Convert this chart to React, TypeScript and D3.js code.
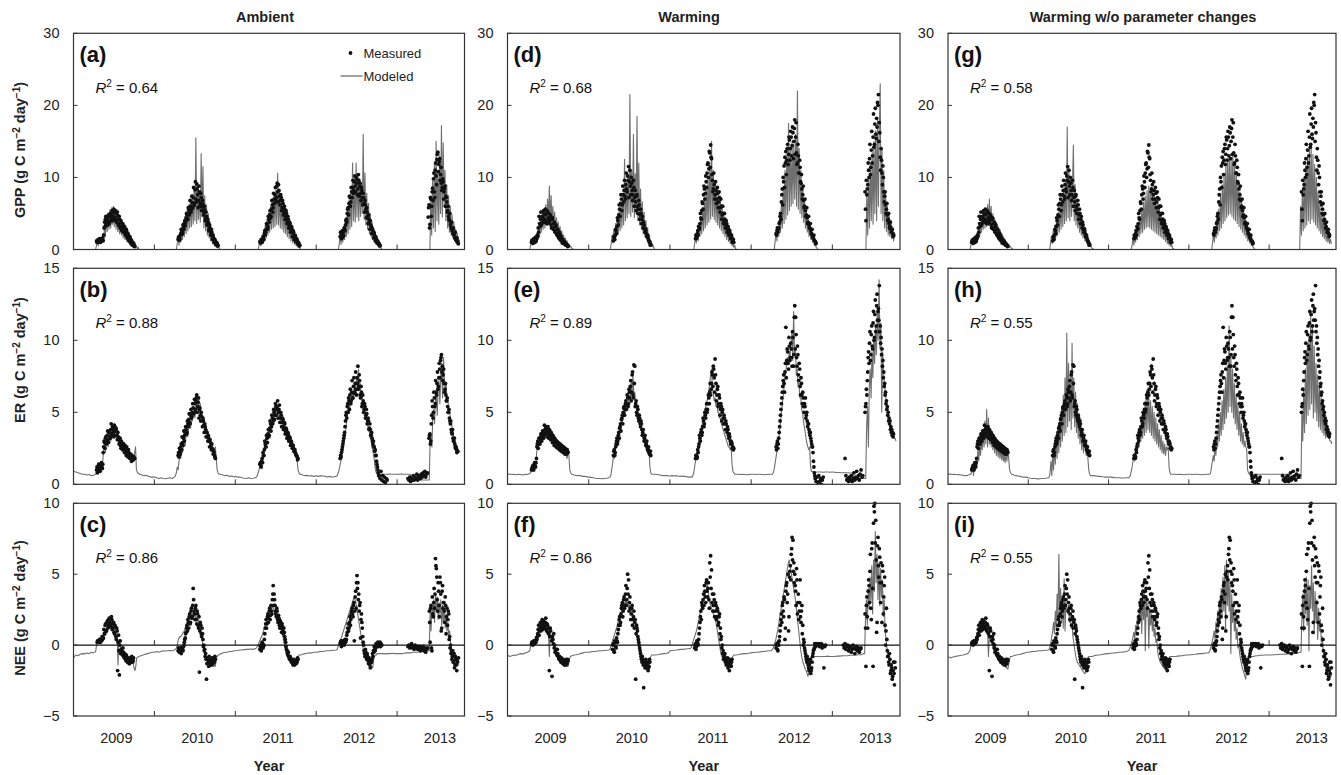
import React from 'react';
import * as d3 from 'd3';

// [year, first day of year, day step, values]
type Seg = [number, number, number, number[]];
type Pt = { t: number; v: number };

const years = [2009, 2010, 2011, 2012, 2013];
const yearTicks = [2010, 2011, 2012, 2013];
const xDomain = [2009, 2013 + 304 / 365];
const columnTitles = ['Ambient', 'Warming', 'Warming w/o parameter changes'];
const panelLetters = [['(a)', '(b)', '(c)'], ['(d)', '(e)', '(f)'], ['(g)', '(h)', '(i)']];
const r2Values = [['0.64', '0.88', '0.86'], ['0.68', '0.89', '0.86'], ['0.58', '0.55', '0.55']];
const yNames = ['GPP', 'ER', 'NEE'];
const yDomains = [[0, 30], [0, 15], [-5, 10]];
const yTicks = [[0, 10, 20, 30], [0, 5, 10, 15], [-5, 0, 5, 10]];

// ---------- measured (ambient) ----------
const gppAmbMeasured: Seg[] = [
  [2009, 105, 4, [1.2,1.0,1.4,1.3,1.1,1.5,1.2,1.6,2.0,3.8,4.2,3.5,4.4,4.0,4.6,3.9,4.8,4.3,5.1,4.6,5.3,4.4,5.0,4.1,4.7,3.6,4.2,3.2,3.7,2.9,3.3,2.6,2.9,2.2,2.5,1.8,2.0,1.4,1.6,1.1,1.0,0.7,0.8,0.5]],
  [2010, 108, 4, [1.4,1.8,1.5,2.2,2.6,2.4,3.1,3.6,3.3,4.4,4.8,4.2,5.5,5.1,6.0,5.6,6.5,7.2,6.1,8.3,7.0,9.1,7.6,6.8,8.0,6.4,7.2,5.9,6.3,5.2,5.5,4.4,4.6,3.6,3.8,2.9,3.0,2.3,2.4,1.8,1.6,1.3,1.1,0.9,0.8,0.6]],
  [2011, 112, 4, [1.1,1.0,1.3,1.2,1.6,2.2,2.0,2.8,3.4,3.1,4.2,4.8,4.4,5.6,6.2,5.8,7.0,7.6,6.8,8.8,8.0,9.0,7.4,6.8,7.2,5.8,6.4,5.2,5.6,4.6,5.0,4.0,4.2,3.4,3.6,2.8,3.0,2.3,2.4,1.8,1.9,1.4,1.3,1.0,0.8,0.6]],
  [2012, 109, 4, [1.8,2.2,1.6,2.4,2.0,2.8,3.4,4.2,5.0,5.8,6.4,7.2,6.6,8.0,8.6,7.8,9.4,8.8,10.0,9.2,8.4,9.6,8.8,7.8,8.6,7.2,7.8,6.4,6.8,5.6,5.8,4.6,4.8,3.8,4.0,3.2,3.0,2.5,2.4,1.9,1.8,1.4,1.2,1.0,0.8,0.6]],
  [2013, 141, 4, [4.5,6.2,3.5,7.0,6.0,8.5,9.8,8.0,11.0,10.2,12.5,13.5,11.8,12.6,10.4,9.2,8.6,9.4,8.0,8.8,7.4,6.6,5.4,4.6,4.0,3.4,3.0,2.6,2.2,2.0,1.6,1.4,1.2,1.0,0.8]],
  // in-between days
  [2009, 107, 4, [1.0,1.3,1.1,1.5,1.0,1.3,1.4,1.2,3.0,3.2,4.6,3.8,3.4,4.8,3.6,5.0,4.0,5.4,4.0,5.6,4.2,5.4,3.8,5.2,3.4,4.6,3.0,4.0,2.6,3.6,2.4,3.2,2.0,2.8,1.6,2.2,1.2,1.8,0.9,1.3,0.6,0.9,0.4]],
  [2010, 110, 4, [1.7,1.3,2.0,2.8,2.1,3.4,2.8,4.0,3.8,5.0,4.2,5.8,4.8,6.8,5.2,7.4,5.8,8.6,6.4,9.4,6.6,8.4,5.8,8.8,6.0,7.8,5.4,6.8,4.8,6.0,4.0,5.2,3.4,4.2,2.6,3.4,2.0,2.8,1.4,2.0,1.0,1.4,0.7,1.0,0.5]],
  [2011, 114, 4, [0.9,1.4,1.0,1.8,1.4,2.6,2.4,3.6,2.8,4.6,3.8,5.4,4.6,6.8,5.2,7.8,6.4,8.6,7.2,9.2,6.6,8.2,6.2,7.6,5.4,6.8,4.8,6.0,4.2,5.4,3.6,4.6,3.0,3.8,2.4,3.2,1.8,2.6,1.4,2.0,1.1,1.5,0.8,1.0,0.5]],
  [2012, 111, 4, [2.4,1.5,2.6,1.8,3.0,2.6,4.0,3.8,5.6,4.8,7.4,6.0,8.6,7.2,9.6,8.2,10.2,8.0,9.8,7.6,10.4,7.4,9.2,6.8,8.2,6.2,7.2,5.2,6.2,4.4,5.2,3.6,4.2,2.8,3.4,2.2,2.8,1.6,2.2,1.2,1.6,0.9,1.1,0.7,0.5]],
  [2013, 143, 4, [5.8,3.0,7.2,4.6,8.0,6.8,10.6,7.2,12.0,9.0,13.2,10.8,12.2,9.6,11.4,8.2,9.8,7.0,8.4,6.0,7.2,5.2,6.0,4.2,5.0,3.6,3.8,2.8,3.0,2.2,2.4,1.6,1.6,1.2]],
];
const erAmbMeasured: Seg[] = [
  [2009, 105, 4, [1.0,0.8,1.2,1.1,0.9,1.3,1.2,1.4,2.6,2.9,3.2,2.8,3.4,3.1,3.6,3.3,3.8,3.5,4.0,3.6,4.1,3.7,3.9,3.4,3.6,3.2,3.0,2.7,3.0,2.6,2.8,2.5,2.7,2.3,2.6,2.2,2.4,2.1,2.0,1.8,2.0,1.7,1.9,1.8]],
  [2010, 108, 4, [2.0,1.9,2.3,2.6,2.4,2.9,3.2,3.0,3.5,3.8,3.6,4.2,4.5,4.3,4.8,4.6,5.0,5.3,5.0,5.6,5.8,6.2,5.4,6.0,5.2,4.8,5.0,4.4,4.6,4.1,4.2,3.8,3.6,3.3,3.4,3.0,3.1,2.7,2.8,2.4,2.3,2.0,1.8]],
  [2011, 112, 4, [1.4,1.3,1.6,1.5,2.0,2.4,2.8,2.6,3.2,3.5,3.3,3.9,4.2,4.0,4.6,4.4,5.0,4.8,5.4,5.2,5.8,5.0,5.5,4.6,4.8,4.3,4.5,4.0,4.2,3.7,3.8,3.4,3.5,3.1,3.2,2.9,2.8,2.6,2.5,2.3,2.2,2.0,1.9,1.8]],
  [2012, 109, 4, [1.8,1.9,2.4,2.8,3.2,3.6,4.4,5.0,5.4,5.0,5.8,6.2,5.6,6.4,6.0,6.8,6.3,7.0,6.6,7.4,8.2,6.8,7.2,6.0,6.4,5.6,5.8,5.2,5.4,4.8,4.9,4.4,4.4,3.9,3.8,3.4,3.2,2.8,2.6,2.3,2.0,1.6,1.2,0.8,0.6,0.4]],
  [2012, 293, 4, [0.9,0.3,0.6,0.2,0.5,0.1,0.4,0.3]],
  [2013, 50, 4, [0.4,0.3,0.5,0.2,0.4,0.3,0.6,0.3,0.5,0.4,0.7,0.3,0.5,0.6,0.4,0.7,0.5,0.8,0.6,0.9,0.5,0.7,0.8]],
  [2013, 145, 4, [3.2,3.5,3.0,4.8,5.4,5.0,6.0,5.6,6.4,7.0,6.6,7.4,8.0,8.6,9.0,8.2,7.6,7.0,6.6,6.2,5.8,5.4,5.0,4.6,4.2,3.8,3.5,3.2,3.0,2.8,2.5,2.4,2.3]],
  // in-between days
  [2009, 107, 4, [1.2,0.9,1.4,1.0,1.2,1.5,1.1,2.2,3.0,2.5,3.3,3.0,3.7,2.9,3.6,3.2,4.2,3.4,3.8,3.3,4.0,3.4,3.7,3.1,3.3,2.8,3.2,2.5,2.9,2.4,2.8,2.2,2.5,2.0,2.3,1.9,2.2,1.8,2.1,1.6,1.9,1.7,1.8]],
  [2010, 110, 4, [2.2,2.5,2.1,2.8,3.3,2.7,3.7,3.4,4.0,3.5,4.4,4.0,4.9,4.2,5.2,4.7,5.6,4.9,5.9,5.2,6.0,5.0,5.7,4.6,5.3,4.4,4.7,4.0,4.4,3.6,4.0,3.3,3.6,3.0,3.2,2.6,2.9,2.4,2.5,2.1,2.2,1.9]],
  [2011, 114, 4, [1.5,1.2,1.8,2.2,2.0,3.0,2.6,3.4,2.9,3.8,3.4,4.4,3.7,4.8,4.2,5.2,4.5,5.6,4.8,5.4,4.6,5.2,4.3,5.0,4.0,4.6,3.8,4.3,3.5,3.9,3.2,3.6,3.0,3.3,2.7,3.0,2.5,2.7,2.3,2.4,2.1,2.0,1.7]],
  [2012, 111, 4, [2.0,2.2,2.6,3.0,3.4,4.0,4.8,4.6,5.6,6.0,5.2,6.6,5.8,7.2,6.0,7.4,6.4,7.8,6.2,7.0,6.6,7.6,6.2,6.8,5.4,6.2,5.0,5.6,4.6,5.2,4.2,4.6,3.8,4.2,3.4,3.6,3.0,3.0,2.6,2.4,2.0,1.4,1.0,0.6]],
  [2013, 147, 4, [3.4,2.8,4.2,5.8,4.6,6.4,5.4,7.2,6.2,7.8,6.8,8.4,7.4,8.8,7.8,7.2,8.0,6.4,7.0,5.8,6.0,5.0,5.2,4.4,4.4,3.6,3.8,3.0,3.2,2.6,2.6,2.2]],
];
const neeAmbMeasured: Seg[] = [
  [2009, 108, 4, [0.2,0.3,0.2,0.3,0.4,0.3,0.4,0.5,0.8,1.4,1.0,1.6,1.2,1.8,1.3,1.5,2.0,1.1,1.5,0.9,1.4,0.6,1.2,-1.8,0.7,-2.1,0.3,-0.3,-0.5,-0.2,-0.8,-0.6,-1.0,-0.7,-1.2,-0.9,-1.3,-1.0,-1.1,-0.8,-1.2,-0.9]],
  [2010, 108, 4, [-0.4,-0.3,-0.5,-0.2,-0.4,-0.3,-0.1,0.2,0.5,0.9,1.4,1.8,1.2,2.2,1.6,2.6,2.0,4.0,2.4,1.8,2.8,1.5,2.2,1.2,-1.9,1.6,0.8,1.2,0.4,0.0,-0.3,-0.6,-2.4,-0.9,-1.2,-0.8,-1.4,-1.0,-1.3,-1.1,-0.9,-1.2,-1.0]],
  [2011, 112, 4, [-0.3,0.0,-0.2,0.1,-0.1,0.4,1.2,1.8,1.5,2.2,1.9,2.6,2.1,2.4,3.2,4.2,3.6,2.8,2.2,2.6,1.8,2.1,1.4,1.7,1.2,1.5,1.0,1.2,0.6,0.2,-0.3,-0.6,-0.5,-0.9,-0.8,-1.1,-1.0,-1.3,-1.2,-1.4,-1.1,-1.3,-1.2,-1.0]],
  [2012, 109, 4, [0.1,0.3,0.0,0.2,0.1,0.3,0.2,0.4,0.9,1.5,1.2,2.0,1.8,2.4,2.2,2.8,0.3,3.4,2.6,4.9,4.4,3.6,2.8,0.5,2.2,1.2,0.2,-0.4,-0.8,-0.5,-1.0,-0.8,-1.3,-1.1,-1.6,-1.2,-1.0,-0.8,-0.5,-0.3,-0.2,0.0,0.1,-0.1,0.0,0.2,0.1,0.0]],
  [2013, 50, 4, [-0.1,0.0,-0.2,-0.1,0.1,-0.2,-0.1,-0.3,0.0,-0.2,-0.1,-0.3,-0.2,-0.1,-0.4,-0.2,-0.3,-0.1,-0.4,-0.2,-0.5,-0.3,-0.2]],
  [2013, 146, 4, [2.4,0.2,2.8,-0.4,2.2,3.0,2.6,6.1,5.4,3.2,4.4,2.8,4.8,3.6,1.2,4.2,3.0,2.4,3.4,0.8,2.6,1.8,2.2,0.6,0.0,-0.4,-0.8,-1.2,-0.6,-1.4,-1.0,-1.8,-1.2,-0.9]],
  // in-between days
  [2009, 110, 4, [0.3,0.2,0.4,0.2,0.4,0.6,0.5,1.1,0.8,1.5,1.0,1.7,1.4,1.9,1.6,1.3,1.8,1.2,1.6,0.8,1.3,0.4,1.0,0.2,-0.4,0.0,-0.6,-0.4,-0.7,-0.5,-0.9,-0.8,-1.1,-0.9,-1.2,-1.1,-1.3,-0.9,-1.2,-1.0,-1.1]],
  [2010, 110, 4, [-0.2,-0.5,-0.3,-0.6,-0.2,-0.4,0.0,0.4,0.8,1.2,1.0,1.6,2.0,1.5,2.4,1.9,2.8,3.2,2.2,2.6,1.8,2.4,1.4,2.0,1.0,1.4,0.6,0.8,-0.1,-0.4,-0.8,-1.0,-1.3,-1.0,-1.5,-1.2,-1.1,-1.4,-0.9,-1.3,-1.1,-0.8]],
  [2011, 114, 4, [-0.1,-0.4,0.2,-0.2,0.0,0.8,1.5,1.2,2.0,1.6,2.4,1.8,2.8,2.2,3.6,2.8,3.2,2.4,2.0,2.4,1.6,1.9,1.2,1.6,0.9,1.3,0.8,0.9,0.4,-0.1,-0.4,-0.7,-0.8,-1.0,-0.9,-1.2,-1.1,-1.4,-1.0,-1.2,-1.3,-1.1,-0.9]],
  [2012, 111, 4, [0.2,-0.1,0.3,0.1,0.0,0.4,0.3,0.7,1.2,1.0,1.6,1.4,2.2,2.6,2.0,3.0,2.4,3.8,4.4,4.0,3.2,2.4,3.0,1.8,1.6,0.6,0.0,-0.6,-0.3,-0.9,-0.6,-1.1,-0.9,-1.4,-1.0,-1.2,-0.6,-0.4,-0.1,-0.4,0.1,-0.1,0.2,0.0,0.1,-0.1]],
  [2013, 148, 4, [1.6,2.6,-0.2,3.4,2.0,4.0,3.6,5.6,4.8,2.4,3.8,2.0,4.4,1.0,3.8,2.6,3.0,1.6,2.8,2.0,1.4,2.4,0.4,-0.2,-0.6,-1.0,-0.4,-1.2,-1.6,-0.8,-1.4,-1.1]],
];

// ---------- measured (warming) ----------
const gppWarmMeasured: Seg[] = [
  [2009, 109, 4, [1.0,1.2,0.9,1.3,1.4,1.1,1.6,1.8,2.4,3.6,4.2,3.4,4.6,3.9,5.0,4.2,4.8,3.6,5.2,4.4,4.0,4.8,3.4,4.2,3.0,3.6,2.6,3.2,2.2,2.8,1.8,2.4,1.5,1.9,1.2,1.4,1.0,1.1,0.8,0.7,0.6,0.5]],
  [2010, 112, 4, [1.2,1.6,2.0,2.6,3.2,4.0,4.8,5.6,6.4,7.0,6.2,7.6,8.2,7.4,9.0,8.4,10.2,11.5,9.4,8.8,10.0,8.2,7.6,8.6,7.2,6.6,7.4,6.0,5.6,6.2,4.8,5.0,4.2,3.6,3.8,2.8,2.9,2.2,1.8,1.6,1.2,0.9,0.7]],
  [2011, 116, 4, [1.5,1.8,2.2,2.0,2.8,3.6,4.4,5.4,6.4,7.6,8.4,7.8,9.4,10.6,12.0,11.2,13.4,14.5,12.6,9.6,8.4,9.0,7.6,8.2,7.0,7.8,6.6,7.2,5.8,6.0,4.8,5.0,4.0,4.2,3.4,3.6,2.8,2.9,2.3,2.2,1.8,1.6,1.2,1.0]],
  [2012, 113, 4, [2.2,2.6,2.4,3.0,3.8,5.0,6.6,8.4,10.0,11.6,12.8,13.6,12.4,14.6,13.2,15.2,14.0,15.6,14.4,16.2,15.0,18.0,15.6,13.4,12.0,13.0,10.6,11.4,9.2,8.4,7.6,6.8,6.0,5.4,4.8,4.4,3.8,3.4,3.0,2.6,2.2,1.9,1.6,1.3,1.1,0.9]],
  [2013, 148, 4, [8.0,4.0,7.6,9.0,11.0,12.6,10.4,13.8,12.0,15.6,14.2,17.4,16.0,18.2,20.4,21.5,17.6,12.8,14.0,10.6,11.6,8.0,7.4,6.2,5.6,4.8,4.2,3.6,3.2,2.8,2.4,2.2,2.0]],
  // in-between days
  [2009, 111, 4, [1.3,0.9,1.5,1.0,1.7,1.4,2.0,3.0,4.6,3.2,5.2,3.6,4.4,5.4,3.8,5.6,4.0,5.4,3.6,5.0,3.8,4.6,3.0,4.4,2.8,3.8,2.4,3.4,2.0,2.8,1.6,2.2,1.3,1.6,0.9,1.3,0.8,1.0,0.6,0.7,0.4]],
  [2010, 114, 4, [1.8,1.4,2.8,2.2,4.4,3.4,6.2,4.6,7.6,5.4,8.8,6.6,9.6,7.0,10.6,8.0,9.6,7.2,11.0,7.6,9.2,6.8,9.6,6.0,8.2,5.4,7.6,5.0,6.8,4.2,5.6,3.6,4.6,3.0,3.4,2.4,2.6,1.8,2.0,1.3,1.0,0.6]],
  [2011, 118, 4, [2.0,1.6,2.6,3.2,3.0,5.0,4.2,6.6,5.6,8.8,7.0,10.2,8.6,11.8,10.0,13.6,11.4,12.8,10.4,8.0,10.6,7.0,9.4,6.4,8.6,5.8,8.0,5.2,7.0,4.2,6.0,3.6,5.0,3.0,4.0,2.4,3.2,2.0,2.6,1.5,2.0,1.0,1.4]],
  [2012, 115, 4, [2.0,3.0,2.8,3.6,4.6,4.2,7.6,6.2,9.4,8.6,12.0,10.4,14.0,11.8,15.6,12.4,16.4,13.0,17.0,12.6,16.8,13.2,17.6,11.8,14.6,10.6,12.4,9.4,10.4,7.0,8.8,5.8,7.0,4.6,5.8,3.6,4.6,3.0,3.6,2.2,2.8,1.6,2.0,1.2,0.8]],
  [2013, 150, 4, [5.6,9.6,8.4,12.0,10.0,14.6,11.4,16.4,13.0,18.8,14.6,19.6,15.4,17.0,20.0,15.0,16.2,11.0,12.4,9.0,10.0,6.6,8.0,5.0,6.4,4.0,5.0,3.0,3.8,2.4,2.8,1.8]],
];
const erWarmMeasured: Seg[] = [
  [2009, 109, 4, [1.0,1.2,1.1,1.4,1.3,1.5,2.6,3.0,2.8,3.2,3.0,3.4,3.2,3.6,3.4,3.8,4.0,3.6,3.9,3.5,3.8,3.4,3.6,3.2,3.4,3.0,3.2,2.9,3.0,2.8,2.9,2.6,2.8,2.5,2.7,2.4,2.6,2.3,2.5,2.3,2.4,2.2]],
  [2010, 112, 4, [2.0,2.4,2.2,2.8,3.2,3.0,3.6,3.9,4.2,4.5,4.8,5.0,5.4,5.2,5.8,5.5,6.0,5.6,6.4,6.8,5.8,7.6,6.2,8.3,8.2,5.6,5.0,5.4,4.6,4.8,4.2,4.4,3.8,3.6,3.4,3.2,3.0,2.8,2.6,2.4,2.2,2.1,2.0]],
  [2011, 116, 4, [1.8,2.0,1.9,2.2,2.8,3.2,3.6,3.4,4.0,4.4,4.2,4.8,5.2,5.0,5.6,6.0,6.4,6.2,7.0,7.6,8.2,7.4,8.7,7.0,6.2,6.8,5.6,6.0,5.2,5.4,5.0,4.6,4.8,4.2,4.4,3.8,4.0,3.4,3.5,3.0,3.0,2.8,2.6,2.5]],
  [2012, 113, 4, [2.6,2.8,2.5,3.2,4.0,4.8,5.6,6.4,7.2,7.0,7.8,10.9,8.6,9.2,8.0,9.6,8.8,9.4,8.2,10.2,9.0,12.4,11.6,8.8,9.6,7.6,8.4,6.8,7.4,6.2,6.4,5.4,5.6,6.0,4.8,4.4,4.2,3.8,3.4,3.2,2.8,2.6,1.6,0.8,0.4,0.2]],
  [2012, 297, 4, [0.5,0.1,0.6,0.2,0.4,0.0,0.3,0.5]],
  [2013, 58, 4, [1.8,0.6,0.3,0.4,0.2,0.5,0.3,0.6,0.2,0.4,0.8,0.3,0.5,0.9,0.4,0.6,0.3,0.7,1.0,0.5,0.6]],
  [2013, 148, 4, [5.0,5.6,6.2,7.8,9.2,9.8,8.6,10.4,9.6,11.2,10.0,11.8,10.6,12.4,11.4,12.2,13.8,11.0,10.2,9.4,8.6,7.8,7.0,6.4,5.8,5.4,5.0,4.6,4.4,4.0,3.8,3.6,3.5]],
  // in-between days
  [2009, 111, 4, [1.1,1.3,1.0,1.5,1.2,1.8,2.8,2.5,3.2,2.8,3.5,3.0,3.7,3.2,4.1,3.5,3.8,3.3,4.0,3.2,3.7,3.1,3.5,2.9,3.3,2.7,3.1,2.6,3.0,2.5,2.8,2.4,2.7,2.3,2.5,2.2,2.4,2.1,2.3,2.1,2.3]],
  [2010, 114, 4, [2.3,2.0,2.6,3.0,2.8,3.4,3.2,4.0,3.7,4.6,4.2,5.3,4.8,5.6,5.2,6.2,5.4,6.6,6.0,7.2,6.4,7.8,6.0,7.0,5.4,5.8,4.8,5.2,4.4,4.6,4.0,4.2,3.4,3.8,3.0,3.4,2.7,3.0,2.4,2.6,2.1,2.3]],
  [2011, 118, 4, [2.0,1.8,2.4,2.6,3.4,3.0,3.8,3.6,4.6,4.0,5.0,4.6,5.6,5.2,6.2,5.6,7.0,6.6,7.8,6.8,8.0,6.4,7.6,5.8,6.6,5.4,6.2,4.8,5.6,4.4,5.2,4.2,4.6,3.8,4.2,3.6,3.8,3.2,3.3,2.8,2.9,2.5,2.4]],
  [2012, 115, 4, [2.4,3.0,2.8,3.6,4.4,5.2,6.0,6.8,7.6,6.4,8.4,7.4,9.4,8.4,10.2,8.6,9.8,8.8,10.6,8.2,11.6,9.4,10.4,8.2,9.0,7.2,8.0,6.2,7.0,5.6,6.0,5.0,5.4,4.6,5.0,4.0,4.2,3.6,3.6,3.0,2.6,2.2,1.2,0.6]],
  [2013, 150, 4, [5.4,6.6,7.2,8.8,8.4,10.6,9.0,11.0,9.4,12.0,10.2,12.8,11.0,13.2,12.0,11.4,10.6,9.8,9.0,8.2,7.4,6.8,6.2,5.6,5.2,4.8,4.4,4.2,3.8,3.6,3.4,3.3]],
];
const neeWarmMeasured: Seg[] = [
  [2009, 109, 4, [0.1,0.2,0.1,0.2,0.3,0.2,0.4,0.8,1.4,1.0,1.6,1.2,1.8,1.4,1.5,1.2,1.9,1.0,1.4,0.8,-1.8,1.2,0.6,-2.2,0.4,0.8,0.0,-0.4,-0.6,-0.3,-0.8,-1.0,-0.9,-1.2,-1.0,-1.3,-1.1,-1.4,-1.2,-1.0,-1.3,-1.1]],
  [2010, 108, 4, [-0.3,0.1,-0.5,0.2,-0.2,0.3,0.8,1.4,2.0,1.6,2.6,3.0,2.4,3.4,2.8,4.2,3.2,5.0,4.6,3.0,2.6,2.2,2.8,1.8,2.4,1.6,-2.4,1.4,1.0,0.4,0.0,-0.4,-0.8,-1.2,-1.0,-3.0,-1.4,-1.2,-1.6,-1.3,-1.8,-1.5,-1.2]],
  [2011, 112, 4, [-0.2,0.1,-0.1,0.2,0.0,0.8,1.6,2.4,3.0,2.6,3.6,4.2,3.4,4.4,3.8,4.0,3.2,5.8,6.3,5.3,3.6,2.8,3.2,2.4,2.8,2.0,2.4,1.6,2.2,1.2,0.6,0.0,-0.4,-0.8,-0.6,-1.0,-1.2,-0.9,-1.4,-1.8,-1.2,-1.5,-1.0]],
  [2012, 113, 4, [-0.2,0.1,-0.4,0.0,0.6,1.4,2.2,2.8,2.4,3.4,0.4,3.8,4.4,3.6,1.0,4.8,5.6,6.4,7.6,7.4,5.8,5.0,3.8,5.4,2.2,3.6,2.4,4.6,1.6,2.8,1.4,0.4,-0.2,-0.6,-1.0,-0.8,-1.4,-1.8,-1.2,-2.0,-1.6,-0.8,-0.4,-0.2,0.0,0.1]],
  [2012, 300, 4, [0.0,0.1,-0.1,0.0,0.1,-0.2,0.0,-1.6,-0.1,0.0]],
  [2013, 50, 4, [0.0,-0.2,0.1,-0.3,-0.1,0.0,-0.4,-0.2,-0.1,-0.5,-0.3,0.0,-0.2,-0.6,-0.3,-0.1,-0.4,-0.2,-0.5,-0.3,-0.2]],
  [2013, 148, 4, [2.2,-1.5,3.4,1.2,4.6,3.0,6.4,1.8,7.2,-1.5,9.8,10.0,8.8,0.9,7.0,5.6,6.8,4.4,5.8,1.6,5.2,3.4,4.8,0.0,2.6,-0.4,-0.8,-1.4,-1.0,-1.8,-1.6,-2.2,-1.2,-2.8,-1.6]],
  // in-between days
  [2009, 111, 4, [0.2,0.0,0.3,0.1,0.3,0.5,0.6,1.1,0.7,1.3,1.0,1.5,1.1,1.7,1.3,1.6,1.1,1.5,0.9,1.2,0.6,1.0,0.3,0.6,0.1,-0.2,-0.5,-0.3,-0.7,-0.6,-0.9,-0.8,-1.1,-0.9,-1.2,-1.0,-1.3,-1.1,-1.4,-1.2,-1.0]],
  [2010, 110, 4, [0.0,-0.4,0.3,-0.1,0.5,0.2,1.1,1.8,1.4,2.2,2.8,2.0,3.2,2.6,3.6,2.8,4.0,3.6,2.4,3.4,1.8,2.6,1.4,2.0,1.2,1.8,0.8,1.2,0.6,0.2,-0.2,-0.6,-1.0,-0.8,-1.4,-1.2,-1.6,-1.0,-1.4,-1.2,-1.6,-1.0]],
  [2011, 114, 4, [0.0,-0.3,0.3,0.1,0.4,1.2,2.0,1.8,2.8,3.2,2.8,3.8,3.0,4.6,3.4,4.4,2.6,4.8,4.0,3.0,2.4,3.6,2.0,3.0,1.8,2.6,1.4,2.0,0.8,0.4,-0.2,-0.6,-1.0,-0.8,-1.2,-1.4,-1.1,-1.6,-1.3,-1.0,-1.4,-1.2]],
  [2012, 115, 4, [0.0,-0.3,0.2,0.3,1.0,1.8,1.6,3.0,2.0,3.2,1.2,4.2,3.0,5.0,2.0,5.2,4.6,6.8,6.0,5.2,4.4,4.2,2.8,4.6,3.0,1.8,3.0,2.0,2.4,0.8,0.0,0.2,-0.4,-0.8,-1.2,-1.0,-1.6,-1.4,-1.0,-1.8,-1.2,-0.6,-0.3,0.1,-0.1]],
  [2013, 150, 4, [1.2,2.8,2.0,3.8,4.2,5.2,2.6,6.8,4.0,8.6,9.4,7.2,6.0,1.6,7.6,4.8,6.2,3.0,4.4,5.6,2.2,4.2,1.4,1.0,0.4,-0.8,-1.2,-0.6,-2.0,-1.4,-2.4,-1.8,-2.0,-1.2]],
];

// ---------- modeled (ambient) ----------
const gppAmbModeled: Seg[] = [
  [2009, 101, 4, [0,0.6,1.2,0.5,1.5,0.8,1.7,1.0,2.2,1.2,3.5,1.8,4.5,2.5,5.0,2.8,5.5,3.0,5.8,3.5,6.0,3.2,5.6,2.8,5.2,2.5,4.6,2.2,4.2,2.0,3.6,1.6,3.2,1.4,2.7,1.1,2.2,0.9,1.8,0.6,1.4,0.5,1.0,0.3,0.8,0.2,0.5,0.1,0.3,0]],
  [2010, 100, 4, [0,0.8,1.8,0.6,2.4,1.0,3.0,1.4,3.8,1.8,4.6,2.2,5.4,2.6,6.2,3.0,7.0,3.2,7.6,3.5,8.4,4.0,15.5,3.6,9.0,4.2,8.0,3.8,13.3,4.5,11.5,3.0,7.5,2.6,6.2,2.0,5.0,1.6,3.8,1.2,2.8,0.8,2.0,0.5,1.3,0.3,0.8,0.2,0.4,0]],
  [2011, 104, 4, [0,0.6,1.3,0.5,1.6,0.8,2.4,1.2,3.4,1.6,4.2,2.0,5.2,2.4,6.0,2.8,6.8,3.0,7.5,3.2,8.2,3.5,10.6,3.4,8.0,3.0,7.0,2.8,6.4,2.4,5.6,2.2,5.0,1.8,4.2,1.5,3.6,1.2,3.0,0.9,2.2,0.7,1.6,0.5,1.1,0.3,0.7,0.2,0]],
  [2012, 101, 4, [0,0.8,2.0,0.7,2.6,1.0,3.2,1.4,4.2,1.8,5.4,2.2,6.8,2.8,8.2,3.2,12.0,4.0,9.5,3.8,12.0,4.5,10.5,4.0,9.8,4.6,9.0,5.0,16.0,4.2,10.6,3.4,7.8,2.8,6.4,2.2,5.0,1.8,3.8,1.4,2.8,1.0,2.0,0.7,1.2,0.4,0.8,0.2,0.4,0]],
  [2013, 149, 4, [0,7.5,2.0,9.5,3.0,12.0,2.5,15.0,4.0,11.0,3.5,13.0,5.0,17.2,4.5,14.8,6.0,11.0,4.0,9.0,3.0,7.5,2.4,6.0,2.0,4.8,1.6,3.8,1.2,2.8,1.0,2.2,0.7,1.2]],
];
const erAmbModeled: Seg[] = [
  [2009, 1, 10, [0.9,0.85,0.8,0.75,0.7,0.7,0.65,0.68,0.6,0.62,0.7]],
  [2009, 105, 4, [0.9,1.0,0.8,1.1,1.2,1.0,1.3,1.6,2.4,2.8,2.2,3.0,3.2,2.6,3.4,3.6,3.0,3.8,4.0,3.4,4.2,3.6,3.9,3.2,3.5,3.0,3.2,2.8,3.0,2.6,2.8,2.4,2.6,2.2,2.4,2.1,2.2,1.9,2.0,1.8,1.9,1.7,1.8,2.2,2.6,1.0]],
  [2009, 290, 10, [0.8,0.7,0.65,0.6,0.62,0.55,0.5,0.5]],
  [2010, 1, 10, [0.5,0.45,0.4,0.45,0.4,0.38,0.42,0.45,0.4,0.5]],
  [2010, 96, 4, [0.6,0.8,1.2,1.0,1.6,2.0,1.8,2.4,2.2,2.8,3.0,2.7,3.4,3.6,3.3,4.0,4.2,3.9,4.5,4.4,4.8,5.0,4.6,5.4,5.6,5.2,6.0,5.0,5.6,4.8,5.0,4.4,4.6,4.1,4.2,3.7,3.8,3.3,3.4,3.0,2.8,2.5,2.2,2.0,2.4,2.6,1.8,1.0,0.8,0.7]],
  [2010, 300, 10, [0.7,0.65,0.6,0.62,0.55,0.58,0.5]],
  [2011, 1, 10, [0.55,0.5,0.5,0.45,0.42,0.4,0.45,0.4,0.42,0.45]],
  [2011, 96, 4, [0.5,0.6,0.8,1.0,1.3,1.2,1.6,2.0,2.4,2.6,3.0,3.2,3.0,3.6,3.8,3.5,4.2,4.4,4.1,4.8,4.6,5.2,5.0,5.6,4.8,5.2,4.6,4.8,4.2,4.4,3.9,4.0,3.6,3.7,3.3,3.4,3.0,3.1,2.8,2.8,2.5,2.4,2.2,2.1,2.0,2.2,1.6,1.0,0.8,0.7,0.7]],
  [2011, 305, 10, [0.65,0.6,0.62,0.58,0.6,0.55,0.6]],
  [2012, 1, 10, [0.6,0.55,0.6,0.58,0.55,0.5,0.55,0.5,0.52,0.55]],
  [2012, 96, 4, [0.6,0.8,1.0,1.3,1.6,1.9,2.2,2.6,3.0,3.5,4.0,4.6,5.2,5.6,5.2,6.0,5.8,6.4,6.0,6.8,6.4,7.0,7.4,6.6,8.0,6.6,7.0,6.0,6.2,5.4,5.6,5.0,5.0,4.4,4.4,3.8,3.8,3.2,3.2,2.6,2.4,2.0,1.6,1.0,0.8,0.7,0.7,0.7,0.7,0.7,0.7]],
  [2012, 300, 10, [0.72,0.7,0.7,0.72,0.7,0.7,0.7]],
  [2013, 1, 10, [0.7,0.7,0.72,0.7,0.7,0.7,0.7,0.32,0.3,0.3,0.3,0.32,0.3,0.3,0.3]],
  [2013, 146, 4, [0.3,3.0,3.4,2.6,4.8,5.2,4.2,5.8,6.2,4.8,6.6,7.2,5.6,7.6,8.4,6.0,8.8,7.4,6.6,7.0,5.8,6.0,5.0,5.2,4.4,4.4,3.8,3.6,3.2,3.0,2.8,2.6,2.5,2.4,2.3,2.2]],
];
const neeAmbModeled: Seg[] = [
  [2009, 1, 10, [-0.9,-0.7,-0.75,-0.65,-0.6,-0.62,-0.55,-0.6,-0.5,-0.55,-0.45]],
  [2009, 106, 4, [0.1,0.2,0.3,0.2,0.3,0.4,0.5,0.6,0.8,1.0,0.9,1.2,1.1,1.3,1.2,1.4,1.3,1.5,1.2,1.0,1.3,0.8,1.1,0.6,-1.4,0.4,0.2,-0.2,-0.4,-0.3,-0.6,-0.7,-0.8,-0.9,-1.0,-1.0,-1.1,-1.1,-1.2,-1.0,-1.2,-1.3,-1.6,-1.8,-1.5,-0.9]],
  [2009, 295, 10, [-0.8,-0.75,-0.7,-0.65,-0.6,-0.55,-0.5,-0.5]],
  [2010, 1, 10, [-0.5,-0.45,-0.5,-0.45,-0.4,-0.42,-0.4,-0.38,-0.4,-0.35]],
  [2010, 96, 4, [-0.3,-0.2,0.0,0.3,0.5,0.6,0.6,0.7,0.8,0.9,1.0,1.2,1.3,1.5,1.6,1.8,1.9,2.0,2.2,2.1,2.3,2.0,2.2,1.9,2.0,1.7,1.8,1.5,1.2,0.8,0.4,0.0,-0.4,-0.6,-0.8,-1.0,-1.1,-1.2,-1.2,-1.3,-1.2,-1.4,-1.5,-1.5,-1.4,-1.5,-1.0,-0.8,-0.7,-0.7]],
  [2010, 300, 10, [-0.6,-0.55,-0.5,-0.5,-0.45,-0.45,-0.4]],
  [2011, 1, 10, [-0.4,-0.38,-0.35,-0.35,-0.32,-0.3,-0.3,-0.28,-0.3,-0.25]],
  [2011, 96, 4, [-0.2,-0.1,0.0,0.2,0.3,0.5,0.6,0.8,1.0,1.2,1.4,1.6,1.8,2.0,2.2,2.4,2.6,2.5,2.8,2.6,2.4,2.2,2.1,1.9,1.8,1.6,1.5,1.3,1.1,0.9,0.6,0.3,-0.1,-0.4,-0.6,-0.8,-0.9,-1.0,-1.1,-1.1,-1.2,-1.2,-1.3,-1.3,-1.4,-1.2,-1.0,-0.8,-0.7,-0.7,-0.7]],
  [2011, 305, 10, [-0.65,-0.6,-0.58,-0.55,-0.55,-0.5,-0.5]],
  [2012, 1, 10, [-0.5,-0.48,-0.45,-0.45,-0.42,-0.4,-0.4,-0.38,-0.36,-0.35]],
  [2012, 96, 4, [-0.3,-0.1,0.0,0.2,0.4,0.6,0.8,1.0,1.2,1.4,1.6,1.8,2.0,2.2,2.4,2.6,2.8,3.0,3.2,3.4,3.2,3.0,2.6,2.2,1.8,1.4,1.0,0.6,0.2,-0.2,-0.5,-0.7,-0.9,-1.0,-1.1,-1.2,-1.3,-1.4,-1.5,-1.5,-1.6,-1.0,-0.8,-0.7,-0.7,-0.6,-0.6,-0.6,-0.6,-0.6,-0.6]],
  [2012, 305, 10, [-0.6,-0.62,-0.6,-0.6,-0.58,-0.6,-0.6]],
  [2013, 1, 10, [-0.6,-0.6,-0.6,-0.58,-0.55,-0.55,-0.55,-0.5,-0.5,-0.5,-0.48,-0.45,-0.45,-0.42,-0.4]],
  [2013, 146, 4, [-0.4,2.5,1.0,2.8,2.0,3.2,1.6,3.6,2.4,3.4,1.8,3.0,2.2,3.2,1.4,2.8,1.6,2.6,1.2,2.2,1.0,1.6,0.6,1.0,0.2,-0.2,-0.6,-0.8,-1.0,-1.1,-1.2,-1.3,-1.3,-1.4,-1.4]],
];

// ---------- modeled (warming) ----------
const gppWarmModeled: Seg[] = [
  [2009, 101, 4, [0,0.6,1.2,0.6,1.5,0.9,1.8,1.1,2.2,1.5,3.0,1.8,4.0,2.4,4.8,2.8,5.5,3.0,6.2,3.4,7.0,3.6,8.8,4.0,7.5,3.4,6.0,3.0,5.2,2.6,4.4,2.3,3.8,2.0,3.2,1.8,2.6,1.4,2.0,1.1,1.6,0.8,1.2,0.5,0.8,0.3,0.5,0.2,0.1,0]],
  [2010, 98, 4, [0,0.8,2.0,0.9,2.8,1.4,3.6,1.8,4.6,2.2,5.6,2.6,6.6,3.0,7.6,3.4,12.5,4.0,9.6,4.4,10.4,5.0,21.5,4.6,11.0,5.2,16.0,4.4,10.5,5.0,18.5,4.0,12.0,3.4,8.4,2.8,6.6,2.2,5.2,1.8,4.0,1.4,3.0,1.0,2.0,0.7,1.2,0.4,0.6,0.2,0]],
  [2011, 108, 4, [0,0.8,1.6,0.9,2.4,1.2,3.2,1.8,4.4,2.2,5.8,2.6,7.2,3.0,8.6,3.4,10.0,3.8,12.0,4.2,15.0,4.6,11.0,4.2,9.0,3.8,8.2,3.4,7.6,3.0,6.8,2.6,5.8,2.2,4.8,1.8,4.0,1.4,3.2,1.1,2.4,0.8,1.8,0.5,1.2,0.3,0.6,0.1,0]],
  [2012, 105, 4, [0,1.2,2.4,1.2,3.2,1.8,4.4,2.4,6.4,3.0,8.6,3.6,11.0,4.2,13.0,4.8,17.5,5.4,14.0,6.0,15.0,6.4,14.6,7.0,16.0,6.0,22.0,5.6,14.0,5.0,11.0,4.4,8.6,3.8,6.8,3.0,5.4,2.4,4.2,1.8,3.2,1.4,2.4,1.0,1.6,0.6,1.0,0.3,0.2,0]],
  [2013, 152, 4, [0,8.0,2.0,10.0,3.0,12.0,4.0,13.5,3.5,15.0,5.0,16.5,4.0,18.0,6.0,17.0,23.0,5.0,14.0,4.0,11.0,3.0,8.0,2.5,6.0,2.0,5.0,1.8,4.0,1.5,3.2,1.2,2.4,1.8]],
];
const erWarmModeled: Seg[] = [
  [2009, 1, 10, [0.7,0.72,0.68,0.7,0.66,0.7,0.68,0.65,0.7,0.68,0.75]],
  [2009, 105, 4, [0.8,1.0,1.1,0.9,1.3,1.2,1.5,2.4,2.8,2.6,3.1,2.9,3.3,3.0,3.5,3.2,3.8,3.4,4.0,3.6,3.8,3.3,3.6,3.1,3.4,3.0,3.2,2.8,3.0,2.7,2.8,2.5,2.7,2.4,2.6,2.3,2.5,2.2,2.4,2.1,2.0,1.8,2.4,2.0,1.0,0.8]],
  [2009, 290, 10, [0.7,0.65,0.62,0.6,0.6,0.55,0.55,0.5]],
  [2010, 1, 10, [0.5,0.48,0.45,0.42,0.4,0.4,0.38,0.4,0.42,0.45]],
  [2010, 96, 4, [0.5,0.6,1.0,1.4,2.0,1.8,2.4,2.8,2.6,3.2,3.6,3.4,4.0,4.4,4.2,4.8,5.0,4.8,5.4,5.6,5.2,6.0,6.2,5.8,7.2,6.4,7.6,6.0,6.4,5.4,5.6,4.8,5.0,4.4,4.4,3.8,3.8,3.2,3.0,2.8,2.6,2.4,2.2,2.6,2.4,1.2,0.8,0.7,0.7,0.7]],
  [2010, 300, 10, [0.7,0.68,0.65,0.62,0.6,0.6,0.58]],
  [2011, 1, 10, [0.58,0.6,0.58,0.6,0.56,0.58,0.55,0.55,0.5,0.5]],
  [2011, 96, 4, [0.5,0.5,0.6,0.8,1.2,1.6,2.0,2.4,2.8,3.2,3.4,3.8,4.0,4.4,4.6,5.0,5.2,5.6,5.8,6.2,6.6,7.0,7.6,8.0,6.6,6.4,5.8,6.0,5.4,5.6,5.0,5.0,4.6,4.6,4.2,4.0,3.8,3.6,3.4,3.2,3.0,2.8,2.6,2.6,2.4,2.6,1.4,0.9,0.8,0.7,0.7]],
  [2011, 305, 10, [0.7,0.68,0.7,0.68,0.66,0.68,0.7]],
  [2012, 1, 10, [0.7,0.7,0.68,0.7,0.7,0.68,0.66,0.68,0.7,0.7]],
  [2012, 96, 4, [0.7,0.8,1.0,1.4,1.8,2.2,2.6,3.0,3.6,4.2,4.8,5.4,6.0,6.6,7.2,7.8,8.2,8.8,8.4,9.2,8.8,9.8,10.5,8.6,12.0,9.0,9.4,7.6,8.0,6.8,7.0,6.0,6.0,5.2,5.0,4.4,4.0,3.6,3.2,2.8,2.6,2.4,2.6,1.2,0.9,0.9,0.85,0.85,0.85,0.85,0.85]],
  [2012, 305, 10, [0.85,0.85,0.84,0.85,0.85,0.84,0.85]],
  [2013, 1, 10, [0.85,0.84,0.82,0.82,0.8,0.8,0.8,0.8,0.78,0.78,0.4,0.4,0.38,0.4,0.4]],
  [2013, 151, 4, [0.4,4.0,5.4,2.6,6.8,8.0,6.0,9.2,7.4,10.2,8.4,11.0,9.0,12.0,10.0,14.2,9.4,11.2,5.0,9.2,7.8,7.0,6.4,5.8,5.4,5.0,4.6,4.2,4.0,3.8,3.6,3.4,3.2,3.2,3.0]],
];
const neeWarmModeled: Seg[] = [
  [2009, 1, 10, [-0.7,-0.8,-0.75,-0.7,-0.72,-0.65,-0.6,-0.62,-0.55,-0.5,-0.4]],
  [2009, 105, 4, [0.0,0.1,0.1,0.2,0.3,0.4,0.5,0.6,0.8,1.0,1.1,1.2,1.3,1.2,1.4,1.3,1.5,1.2,1.3,1.0,0.8,-0.8,0.9,0.7,0.5,0.3,0.0,-0.3,-0.5,-0.6,-0.8,-0.9,-1.0,-1.0,-1.1,-1.2,-1.2,-1.3,-1.3,-1.4,-1.4,-1.5,-1.5,-1.2,-0.9,-0.8]],
  [2009, 290, 10, [-0.75,-0.7,-0.68,-0.65,-0.6,-0.55,-0.5,-0.5]],
  [2010, 1, 10, [-0.5,-0.48,-0.45,-0.45,-0.42,-0.4,-0.4,-0.38,-0.36,-0.35]],
  [2010, 96, 4, [-0.3,-0.1,0.1,0.3,0.5,0.7,0.9,1.1,1.3,1.6,1.8,2.0,2.2,2.4,2.6,2.8,3.0,2.8,3.2,2.9,3.0,2.6,2.8,2.4,2.5,2.2,2.2,1.9,1.8,1.4,1.0,0.6,0.2,-0.2,-0.6,-0.9,-1.1,-1.3,-1.4,-1.5,-1.6,-1.6,-1.7,-1.8,-1.5,-1.0,-0.8,-0.7,-0.7,-0.7]],
  [2010, 300, 10, [-0.7,-0.68,-0.65,-0.62,-0.6,-0.58,-0.55]],
  [2011, 1, 10, [-0.4,-0.38,-0.36,-0.35,-0.32,-0.3,-0.3,-0.28,-0.26,-0.25]],
  [2011, 96, 4, [-0.2,0.0,0.2,0.4,0.6,0.8,1.0,1.3,1.6,1.9,2.2,2.5,2.7,3.0,3.2,3.4,3.6,3.8,4.4,3.8,3.4,3.0,2.8,2.6,2.4,2.2,2.0,1.8,1.6,1.2,0.8,0.4,0.0,-0.4,-0.7,-0.9,-1.0,-1.1,-1.2,-1.3,-1.4,-1.4,-1.5,-1.5,-1.6,-1.2,-0.9,-0.8,-0.7,-0.7,-0.7]],
  [2011, 305, 10, [-0.68,-0.65,-0.62,-0.6,-0.6,-0.58,-0.55]],
  [2012, 1, 10, [-0.55,-0.52,-0.5,-0.5,-0.48,-0.45,-0.45,-0.42,-0.4,-0.4]],
  [2012, 96, 4, [-0.3,-0.2,0.0,0.2,0.4,0.7,1.0,1.4,1.8,2.2,2.6,3.0,3.4,3.8,4.2,4.6,5.0,5.4,5.8,6.0,5.6,5.2,4.8,4.4,4.0,3.6,3.2,2.6,2.0,1.4,0.8,0.2,-0.4,-0.8,-1.1,-1.3,-1.5,-1.7,-1.8,-2.0,-2.2,-2.0,-1.0,-0.9,-0.9,-0.85,-0.85,-0.85,-0.8,-0.8,-0.8]],
  [2012, 305, 10, [-0.8,-0.82,-0.8,-0.8,-0.78,-0.8,-0.8]],
  [2013, 1, 10, [-0.8,-0.8,-0.78,-0.78,-0.76,-0.75,-0.75,-0.74,-0.72,-0.72,-0.7,-0.7,-0.68,-0.68,-0.6]],
  [2013, 146, 4, [-0.6,2.0,3.2,1.4,4.0,2.6,4.8,3.0,5.6,2.2,6.0,3.8,8.0,4.4,6.4,3.2,5.8,2.8,5.4,3.4,4.6,2.0,3.2,1.0,0.4,-0.2,-0.6,-0.9,-1.2,-1.4,-1.6,-1.7,-1.8,-1.9,-2.0,-2.0]],
];

// ---------- modeled (warming w/o parameter changes) ----------
const gppFixedModeled: Seg[] = [
  [2009, 101, 4, [0,0.6,1.2,0.6,1.5,0.9,1.8,1.1,2.2,1.5,3.0,1.8,3.8,2.4,4.4,2.8,5.0,3.0,5.6,3.2,6.2,3.4,7.0,3.6,6.0,3.2,5.0,2.8,4.4,2.4,3.8,2.2,3.2,1.9,2.8,1.6,2.3,1.3,1.8,1.0,1.4,0.7,1.0,0.5,0.7,0.3,0.4,0.2,0.1,0]],
  [2010, 98, 4, [0,0.8,1.8,0.8,2.6,1.2,3.4,1.6,4.4,2.0,5.2,2.4,6.2,2.8,7.0,3.2,8.4,3.6,9.6,4.0,17.0,4.4,11.0,4.0,10.0,4.6,9.0,14.5,4.0,9.0,3.4,7.0,3.0,5.6,2.4,4.6,2.0,3.6,1.6,2.8,1.2,2.0,0.9,1.4,0.6,1.0,0.4,0.6,0.2,0.1,0]],
  [2011, 104, 4, [0,0.6,1.4,0.6,2.0,1.0,2.8,1.4,3.6,1.8,4.6,2.2,5.6,2.4,6.6,2.8,7.4,3.0,8.2,3.2,8.8,3.0,8.4,2.8,8.0,2.6,7.6,2.4,7.0,2.2,6.4,2.0,5.6,1.8,4.8,1.6,4.0,1.4,3.2,1.1,2.4,0.8,1.8,0.6,1.2,0.4,0.7,0.2,0.1,0]],
  [2012, 105, 4, [0,1.0,2.2,1.0,3.0,1.6,4.2,2.0,5.6,2.6,7.4,3.0,9.0,3.6,10.4,4.0,11.6,4.4,12.4,4.8,13.0,5.0,12.6,4.6,13.4,4.2,12.0,4.0,10.8,3.6,9.4,3.2,8.0,2.8,6.6,2.4,5.4,2.0,4.2,1.6,3.2,1.2,2.4,0.9,1.6,0.6,1.0,0.3,0.2,0]],
  [2013, 140, 4, [0,6.0,2.0,8.0,2.6,10.0,3.0,11.6,3.4,13.0,4.0,14.0,3.6,14.6,4.2,13.2,3.8,11.8,3.4,10.0,3.0,8.0,2.6,6.4,2.2,5.0,1.8,4.0,1.5,3.2,1.2,2.6,1.0,2.0,0.8,1.4,0.8]],
];
const erFixedModeled: Seg[] = [
  [2009, 1, 10, [0.7,0.72,0.68,0.7,0.66,0.68,0.65,0.62,0.6,0.62,0.7]],
  [2009, 105, 4, [0.7,0.9,1.2,0.6,1.4,1.0,1.8,1.3,2.4,1.6,2.8,2.0,3.2,2.4,3.6,2.6,4.4,2.8,5.2,2.6,4.6,2.8,3.8,2.6,3.6,2.4,3.2,2.2,3.0,2.0,2.8,1.9,2.6,1.8,2.4,1.7,2.2,1.6,2.0,1.5,2.2,1.6,2.4,1.8,1.0,0.8]],
  [2009, 290, 10, [0.7,0.65,0.6,0.58,0.55,0.5,0.5,0.48]],
  [2010, 1, 10, [0.45,0.42,0.4,0.4,0.38,0.38,0.4,0.4,0.42,0.45]],
  [2010, 96, 4, [0.5,0.8,1.6,0.6,2.2,1.0,2.8,1.4,3.4,1.8,4.0,2.2,4.6,2.6,5.4,3.0,6.2,3.4,7.4,3.6,10.5,4.0,8.4,4.4,7.6,3.8,9.8,4.6,7.4,4.0,6.4,3.6,5.6,3.2,4.8,2.8,4.2,2.4,3.6,2.2,3.0,2.6,2.0,2.8,1.8,1.0,0.7,0.6,0.6,0.6]],
  [2010, 300, 10, [0.6,0.58,0.55,0.55,0.52,0.5,0.5]],
  [2011, 1, 10, [0.5,0.5,0.48,0.46,0.45,0.45,0.44,0.44,0.45,0.45]],
  [2011, 96, 4, [0.5,0.6,0.9,1.2,1.6,2.0,1.6,2.4,2.8,2.2,3.2,2.6,3.8,3.0,4.4,3.2,5.0,3.4,5.8,3.6,6.6,3.8,6.2,3.6,5.8,3.4,5.4,3.2,5.0,3.0,4.6,2.8,4.2,2.6,3.8,2.4,3.4,2.2,3.0,2.1,2.8,2.0,2.6,2.4,2.6,1.2,0.8,0.7,0.7,0.7,0.7]],
  [2011, 305, 10, [0.7,0.68,0.7,0.68,0.66,0.68,0.7]],
  [2012, 1, 10, [0.7,0.7,0.68,0.7,0.7,0.68,0.66,0.68,0.7,0.7]],
  [2012, 96, 4, [0.7,0.8,1.2,1.6,2.0,1.6,2.6,2.0,3.4,2.6,4.2,3.0,5.0,3.4,5.8,3.8,6.6,4.2,7.4,4.6,8.2,5.0,11.0,5.4,9.0,5.0,8.0,4.6,7.0,4.2,6.2,3.8,5.6,3.4,5.0,3.0,4.2,2.8,3.6,2.6,3.0,2.6,2.4,1.0,0.8,0.7,0.7,0.7,0.7,0.7,0.7]],
  [2012, 305, 10, [0.7,0.7,0.7,0.7,0.7,0.7,0.7]],
  [2013, 1, 10, [0.7,0.7,0.7,0.7,0.7,0.7,0.7,0.7,0.7,0.68,0.4,0.4,0.4,0.4,0.4]],
  [2013, 146, 4, [0.4,5.0,3.0,6.6,3.6,8.0,4.2,9.4,4.8,10.4,5.2,11.8,5.6,11.0,4.6,9.6,5.0,8.4,4.4,7.6,4.0,6.8,3.8,6.0,3.6,5.4,3.4,4.6,3.2,4.0,3.4,3.6,3.2,3.0,3.0,2.8]],
];
const neeFixedModeled: Seg[] = [
  [2009, 1, 10, [-0.8,-0.9,-0.85,-0.8,-0.78,-0.75,-0.72,-0.7,-0.65,-0.6,-0.4]],
  [2009, 105, 4, [0.0,0.1,0.1,0.2,0.3,0.3,0.4,0.5,0.7,0.9,0.8,1.1,1.0,1.2,1.1,1.3,1.2,1.4,1.1,0.9,-0.8,0.7,0.5,0.3,0.1,-0.1,-0.3,-0.5,-0.7,-0.8,-0.9,-1.0,-1.1,-1.1,-1.2,-1.3,-1.3,-1.4,-1.4,-1.5,-1.6,-1.6,-1.7,-1.4,-1.0,-0.8]],
  [2009, 290, 10, [-0.8,-0.75,-0.7,-0.68,-0.65,-0.6,-0.55,-0.5]],
  [2010, 1, 10, [-0.5,-0.48,-0.45,-0.45,-0.42,-0.4,-0.4,-0.38,-0.36,-0.35]],
  [2010, 96, 4, [-0.3,-0.1,0.2,0.6,1.0,1.6,0.8,2.4,1.2,3.6,1.8,6.4,2.0,4.0,1.6,3.2,1.2,4.7,1.0,3.0,2.6,2.2,2.8,1.6,2.0,1.2,1.4,0.6,0.2,-0.3,-0.7,-1.0,-1.2,-1.3,-1.4,-1.5,-1.6,-1.7,-1.8,-1.9,-2.0,-2.0,-1.4,-1.0,-0.9,-0.8,-0.8,-0.8,-0.8,-0.8]],
  [2010, 300, 10, [-0.75,-0.72,-0.7,-0.68,-0.65,-0.62,-0.6]],
  [2011, 1, 10, [-0.6,-0.58,-0.56,-0.55,-0.52,-0.5,-0.5,-0.48,-0.45,-0.4]],
  [2011, 96, 4, [-0.3,-0.1,0.1,0.3,0.6,0.9,0.4,1.4,0.8,2.0,1.2,2.6,1.6,3.2,0.8,3.6,1.8,3.8,-0.4,3.4,2.0,3.0,-0.2,2.6,1.4,2.2,1.0,1.8,0.6,1.2,0.2,0.4,-0.4,-0.8,-1.0,-1.2,-1.3,-1.4,-1.5,-1.6,-1.6,-1.7,-1.7,-1.8,-1.6,-1.0,-0.8,-0.8,-0.8,-0.8,-0.8]],
  [2011, 305, 10, [-0.8,-0.78,-0.76,-0.75,-0.72,-0.7,-0.7]],
  [2012, 1, 10, [-0.7,-0.68,-0.66,-0.65,-0.62,-0.6,-0.6,-0.58,-0.56,-0.55]],
  [2012, 96, 4, [-0.4,-0.2,0.0,0.3,0.6,1.0,0.4,1.6,0.8,2.4,1.2,3.2,1.6,4.0,2.0,4.8,2.4,5.6,1.0,6.0,2.8,5.2,2.4,4.4,-0.6,3.6,1.6,2.8,1.0,2.0,0.4,1.2,-0.2,0.0,-0.6,-1.0,-1.3,-1.6,-1.8,-2.0,-2.2,-2.4,-1.2,-1.0,-0.9,-0.9,-0.85,-0.85,-0.8,-0.8,-0.8]],
  [2012, 305, 10, [-0.75,-0.75,-0.72,-0.72,-0.7,-0.7,-0.7]],
  [2013, 1, 10, [-0.7,-0.7,-0.68,-0.68,-0.66,-0.65,-0.65,-0.64,-0.62,-0.62,-0.6,-0.6,-0.58,-0.55,-0.5]],
  [2013, 146, 4, [-0.5,2.0,3.6,1.0,4.4,2.2,4.8,1.4,4.6,-0.4,4.2,2.6,5.6,2.4,4.4,0.8,3.8,1.6,3.2,0.4,2.6,1.0,1.8,0.2,0.6,-0.2,-0.8,-1.2,-1.6,-1.8,-2.0,-2.2,-2.3,-2.4,-2.2,-2.0]],
];

const measuredSets = [
  [gppAmbMeasured, erAmbMeasured, neeAmbMeasured],
  [gppWarmMeasured, erWarmMeasured, neeWarmMeasured],
  [gppWarmMeasured, erWarmMeasured, neeWarmMeasured],
];
const modeledSets = [
  [gppAmbModeled, erAmbModeled, neeAmbModeled],
  [gppWarmModeled, erWarmModeled, neeWarmModeled],
  [gppFixedModeled, erFixedModeled, neeFixedModeled],
];

// layout
const cols = [
  { left: 73.5, right: 464.5, title: 265 },
  { left: 507.5, right: 900, title: 689 },
  { left: 948, right: 1336, title: 1143 },
];
const rows = [
  { top: 33.3, bottom: 249.5, labelY: 150 },
  { top: 268.3, bottom: 484.3, labelY: 360 },
  { top: 503.3, bottom: 716, labelY: 608 },
];
const font = '"Liberation Sans", Arial, Helvetica, sans-serif';
const modelColor = '#6f6f6f';

const toPoints = (segs: Seg[]): Pt[] =>
  segs
    .flatMap(([yr, d0, step, vals]) => vals.map((v, i) => ({ t: yr + (d0 - 1 + i * step) / 365, v })))
    .sort((a, b) => a.t - b.t);

function Panel({ col, row }: { col: number; row: number }) {
  const c = cols[col];
  const r = rows[row];
  const x = d3.scaleLinear().domain(xDomain).range([c.left, c.right]);
  const y = d3.scaleLinear().domain(yDomains[row]).range([r.bottom, r.top]);
  const modeled = toPoints(modeledSets[col][row]);
  const measured = toPoints(measuredSets[col][row]);
  const line = d3.line<Pt>().x(d => x(d.t)).y(d => y(d.v));
  const fmt = d3.format('d');
  const isNee = row === 2;
  const clipId = `clip-${col}-${row}`;

  return (
    <g>
      <defs>
        <clipPath id={clipId}>
          <rect x={c.left} y={r.top - 3} width={c.right - c.left} height={r.bottom - r.top + 3} />
        </clipPath>
      </defs>
      <g clipPath={`url(#${clipId})`}>
        <path d={line(modeled) || ''} fill="none" stroke={modelColor} strokeWidth={1.1} strokeLinejoin="round" />
        {measured.map((d, i) => (
          <circle key={i} cx={x(d.t)} cy={y(d.v)} r={1.9} fill="#111" />
        ))}
      </g>
      {isNee && (
        <g>
          <line x1={c.left} x2={c.right} y1={y(0)} y2={y(0)} stroke="#111" strokeWidth={1.2} />
          {yearTicks.map(yr => (
            <line key={yr} x1={x(yr)} x2={x(yr)} y1={y(0)} y2={y(0) - 5} stroke="#333" strokeWidth={1} />
          ))}
        </g>
      )}
      <rect x={c.left} y={r.top} width={c.right - c.left} height={r.bottom - r.top} fill="none" stroke="#333" strokeWidth={1.2} />
      {yearTicks.map(yr => (
        <line key={yr} x1={x(yr)} x2={x(yr)} y1={r.bottom} y2={r.bottom - 5} stroke="#333" strokeWidth={1} />
      ))}
      {yTicks[row].map(v => (
        <g key={v}>
          <line x1={c.left} x2={c.left + 4} y1={y(v)} y2={y(v)} stroke="#333" strokeWidth={1} />
          <text x={c.left - 14} y={y(v) + 5} textAnchor="end" fontSize={14.5} fontFamily={font} fill="#222">
            {fmt(v)}
          </text>
        </g>
      ))}
      <text x={c.left + 6} y={r.top + 29} fontSize={22} fontWeight="bold" fontFamily={font} fill="#111">
        {panelLetters[col][row]}
      </text>
      <text x={c.left + 22} y={r.top + 60} fontSize={15} fontFamily={font} fill="#111">
        <tspan fontStyle="italic">R</tspan>
        <tspan dy={-6} fontSize={10}>2</tspan>
        <tspan dy={6}>{` = ${r2Values[col][row]}`}</tspan>
      </text>
      {row === 2 &&
        years.map(yr => (
          <text key={yr} x={x(yr + 0.53)} y={743} textAnchor="middle" fontSize={14.5} fontFamily={font} fill="#222">
            {String(yr)}
          </text>
        ))}
      {row === 2 && (
        <text x={(c.left + c.right) / 2} y={771} textAnchor="middle" fontSize={14.5} fontWeight="bold" fontFamily={font} fill="#222">
          Year
        </text>
      )}
    </g>
  );
}

function YLabel({ row }: { row: number }) {
  const cy = rows[row].labelY;
  return (
    <text transform={`translate(25,${cy}) rotate(-90)`} textAnchor="middle" fontSize={14.5} fontWeight="bold" fontFamily={font} fill="#222">
      <tspan>{`${yNames[row]} (g C m`}</tspan>
      <tspan dy={-5} fontSize={10}>−2</tspan>
      <tspan dy={5}> day</tspan>
      <tspan dy={-5} fontSize={10}>−1</tspan>
      <tspan dy={5}>)</tspan>
    </text>
  );
}

export default function App() {
  const legendX = cols[0].left + 277;
  return (
    <svg width={1341} height={775} style={{ position: 'absolute', left: 0, top: 0, background: '#fff' }}>
      <rect width={1341} height={775} fill="#fff" />
      {columnTitles.map((t, i) => (
        <text key={t} x={cols[i].title} y={22} textAnchor="middle" fontSize={14.5} fontWeight="bold" fontFamily={font} fill="#222">
          {t}
        </text>
      ))}
      {[0, 1, 2].map(col => [0, 1, 2].map(row => <Panel key={`${col}-${row}`} col={col} row={row} />))}
      {[0, 1, 2].map(row => <YLabel key={row} row={row} />)}
      <g fontFamily={font} fontSize={13} fill="#222">
        <circle cx={legendX} cy={53} r={1.9} fill="#111" />
        <text x={legendX + 13} y={58}>Measured</text>
        <line x1={legendX - 10} x2={legendX + 12} y1={76} y2={76} stroke={modelColor} strokeWidth={1.3} />
        <text x={legendX + 13} y={81}>Modeled</text>
      </g>
    </svg>
  );
}
